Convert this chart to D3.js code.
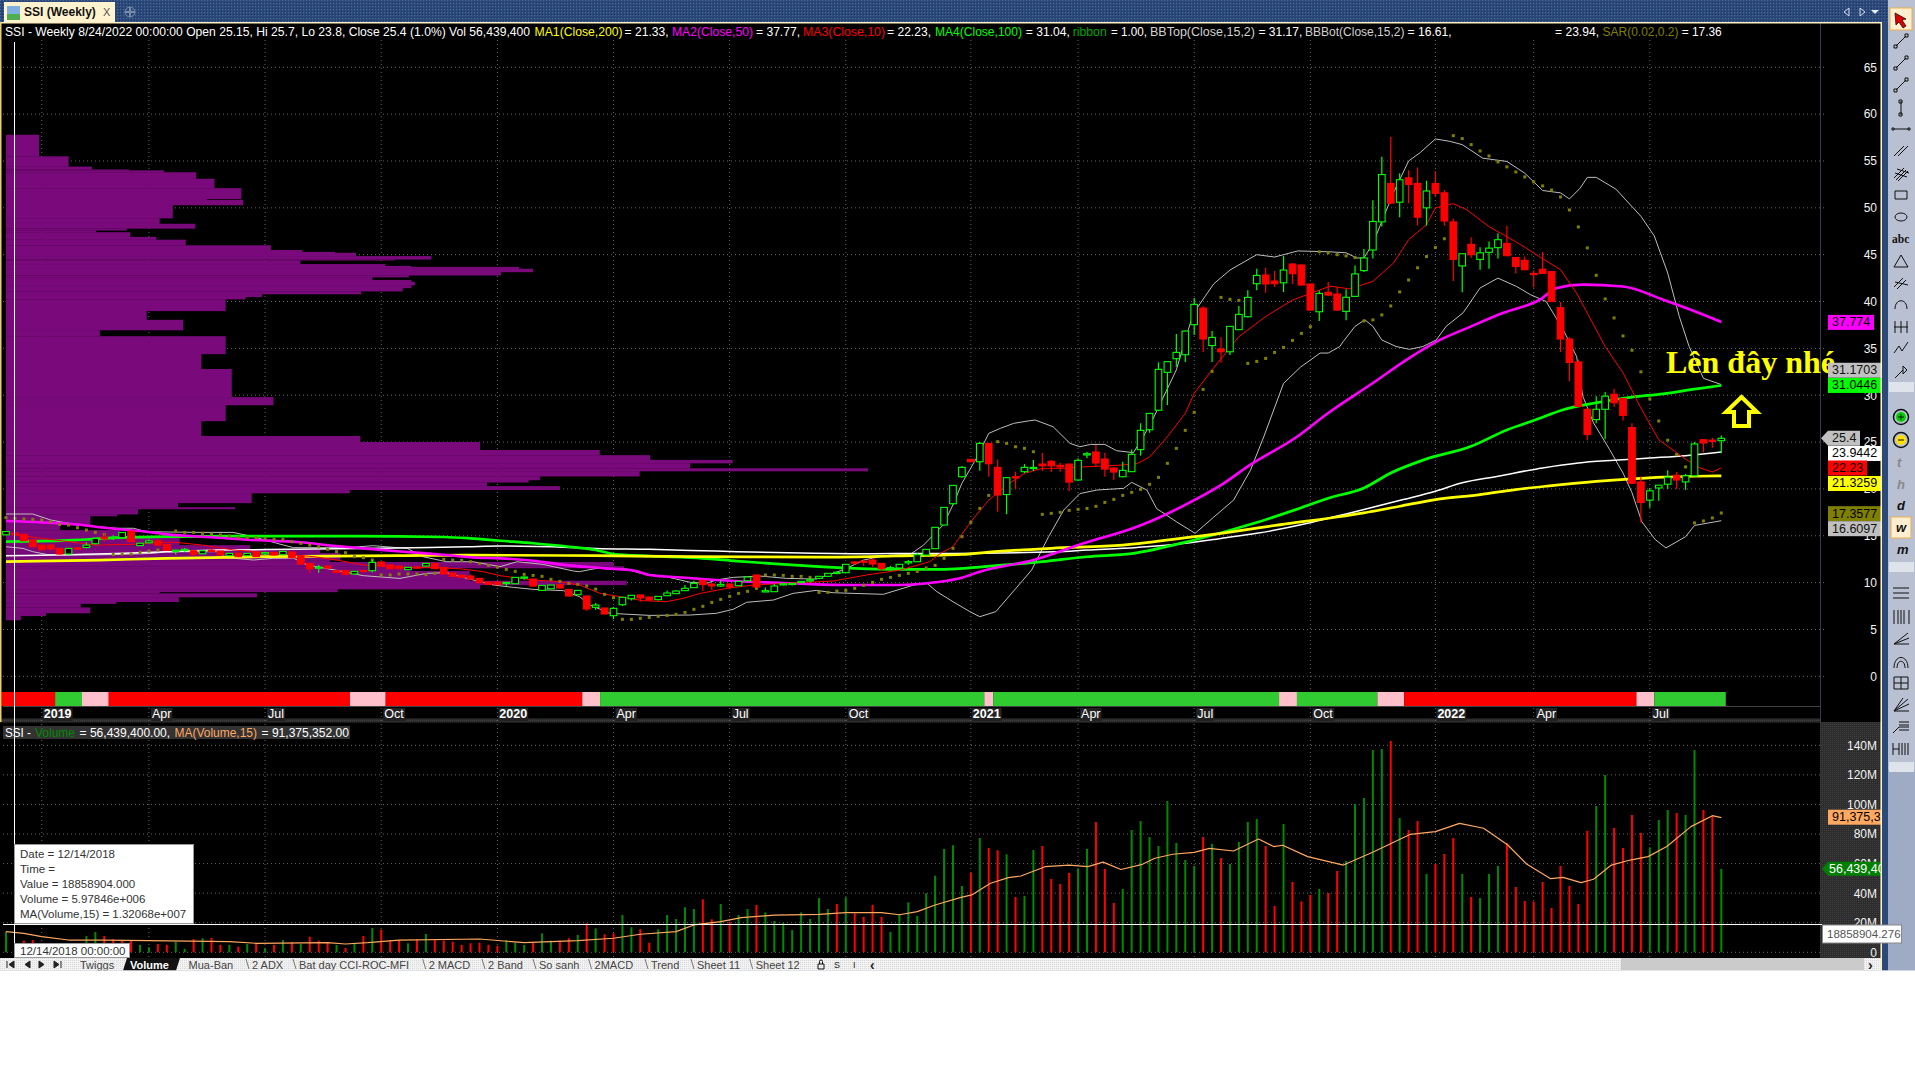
<!DOCTYPE html>
<html><head><meta charset="utf-8">
<style>html,body{margin:0;padding:0;background:#fff}svg{display:block}</style>
<script src="https://cdnjs.cloudflare.com/ajax/libs/d3/7.8.5/d3.min.js"></script>
</head><body><svg id="c" width="1915" height="1068" font-family='"Liberation Sans",Arial,sans-serif'></svg>
<script>
// ---------- candles, one entry per weekly bar ----------
const opens=[15.1,15.3,15.15,14.55,14,14,13.65,13.05,13.7,13.75,14.15,14.85,14.8,14.8,15.5,13.95,14.25,14.45,14.08,13.37,13.5,13.4,13.08,13.45,13.37,12.87,13.15,12.87,13.23,13.05,13.23,12.98,13.27,12.84,12.05,11.6,11.77,11.27,11.27,10.92,11.3,11.27,12.2,11.88,11.77,11.38,11.66,11.77,12.05,11.63,11.02,10.8,10.7,10.45,10.06,10.06,9.95,9.88,10.5,10.38,9.17,9.35,9.78,9.28,8.71,8.57,7.36,7.29,6.47,7.64,8.28,8.68,8.46,8.18,8.6,8.82,9.14,9.46,10.24,9.85,9.64,9.85,9.67,10.2,10.81,9,9.03,9.78,9.82,10,10.17,10.45,10.67,11,11.06,12.2,12.3,12.4,12.05,11.56,11.56,12.1,12.23,12.94,13.62,16.15,18.42,21.3,23.15,22.9,24.86,22.3,19.4,21.3,21.84,22.2,22.65,22.94,22.52,22.65,20.95,23.62,23.94,23.19,22.23,21.3,21.84,24.19,26.32,28.4,32.44,33.9,34.32,37.53,39.3,35.3,34.93,34.64,37,38.38,41.9,42.83,42.19,42,44,43.9,41.87,38.91,40.98,40.8,38.95,40.55,43.3,45.5,48.5,52.6,50.6,53.2,52.6,50,52.6,51.6,48.5,43.8,46.1,44.5,45.25,45.75,46.2,44.7,44.4,43,43.45,43.2,39.35,36,33.55,28.5,27.4,28.5,30.1,29.65,26.55,20.75,18.8,20.1,20.5,21.45,20.75,21.4,25.25,25.2,25.15];
const highs=[15.5,15.35,15.2,14.6,14.05,14.05,13.7,13.7,13.75,14.3,14.75,15.25,15.05,15.35,15.55,14.25,14.6,14.6,14.1,13.5,13.7,13.45,13.4,13.7,13.4,13.15,13.2,13.15,13.25,13.3,13.28,13.35,13.3,12.9,12.1,11.88,11.8,11.3,11.3,11.2,11.35,12.4,12.25,11.9,11.85,11.65,11.75,12.1,12.1,11.7,11.05,10.85,10.88,10.5,10.1,10.1,10.03,10.58,10.65,10.42,9.72,9.76,9.8,9.3,9.18,8.6,7.82,7.3,7.4,8.45,8.66,8.7,8.48,8.55,9.17,9.2,9.74,10.2,10.28,9.9,10.24,9.88,10.15,10.62,10.85,9.49,9.85,9.9,9.95,10.15,10.52,10.7,11,11.15,11.97,12.3,12.4,12.6,12.1,11.8,11.97,12.4,13.2,13.6,15.92,18.05,20.4,22.45,23.2,25,24.9,23.15,21.25,21.84,22.65,23.08,23.83,23.08,22.8,22.7,23.26,23.97,24.68,23.87,22.3,22.9,24.2,27,28.1,33.5,33.6,36.53,36.9,40.37,39.52,36.85,36.2,37.4,39.52,41.2,43.5,43.6,43.25,44.85,44.1,43.95,41.9,41.15,42.08,41.5,41.3,43.85,45.6,50.8,55.45,57.55,53.7,54,54.3,52.9,53.9,51.9,48.85,45.1,46.85,45.8,46.4,47.3,48.1,44.75,44.8,43.35,45.3,43.25,39.95,36.2,33.8,28.55,29.9,30.35,30.7,29.7,27,21.35,20.1,20.4,22,21.8,21.6,25,25.3,25.45,25.7];
const lows=[15.05,15.05,14.45,13.8,13.45,13.4,13,13,13.6,13.65,14.1,14.37,14.55,14.75,14.35,13.9,14.2,13.95,13.4,13,13.3,12.8,13.05,13.3,12.9,12.85,12.75,12.85,12.75,12.95,12.9,12.95,12.6,11.95,10.99,11.05,11.5,11.05,10.85,10.9,11.2,11.1,11.7,11.45,11.45,11.35,11.55,11.75,11.45,10.9,10.65,10.55,10.3,9.95,9.8,9.75,9.6,9.85,10.3,9.6,9.1,9.3,9.4,8.55,8.68,7,7.1,6.63,6.1,7.5,8.1,7.97,8.12,8.1,8.58,8.8,9.12,9.44,9.1,9.2,9.53,9.3,9.65,10.18,9.5,8.98,9,9.7,9.7,9.95,10,10.4,10.65,10.9,11,11.9,11.8,11.7,11.27,11.45,11.5,11.9,12.2,12.9,13.6,16.1,18.3,21.2,22.85,21.95,21.3,17.57,17.3,20.02,21.7,21.9,21.9,21.8,21.84,19.77,20.9,23.26,22.37,21.3,20.95,21.25,21.8,23.55,26,28.3,28.95,33.04,33.54,36.42,34.61,33.54,33.47,34.29,36.95,38.3,41.2,40.94,41.54,41,41.87,41.7,39,37.92,40.6,39,38,40.5,43.15,44.6,48,50.4,49,50.5,48.1,48.1,51.2,48.1,42.2,41,44.65,43.4,43.5,44.6,44.8,43,43.35,41.5,42.95,39.95,34.6,31.5,28.75,25.2,27,25.3,28.75,27.3,20.55,16.4,18,18.75,20,20,19.9,21.35,23.9,24.4,23.8];
const closes=[15.45,15.1,14.47,13.83,13.5,13.6,13.05,13.65,13.65,14,14.72,14.68,14.85,15.35,14.37,14.2,14.45,14,13.45,13.46,13.55,13,13.4,13.35,12.95,13.12,12.77,13.12,12.77,13.2,12.95,13.33,12.66,11.98,11.48,11.66,11.55,11.09,10.88,11.2,11.25,12.16,11.77,11.48,11.48,11.63,11.6,12.05,11.48,10.92,10.67,10.56,10.38,9.99,9.81,9.78,10.02,10.56,10.6,9.63,9.7,9.74,9.42,8.57,9.17,7.18,7.6,6.65,7.25,8.43,8.64,8.36,8.14,8.53,8.89,9.1,9.39,9.92,9.78,9.64,9.81,9.53,10.13,10.6,9.53,9.14,9.64,9.88,9.92,10.13,10.31,10.67,10.99,11.1,11.95,12.1,12.25,11.98,11.48,11.6,11.95,12.24,12.98,13.55,15.9,18.03,20.38,22.3,22.9,24.86,22.69,19.35,21.2,21.2,22.3,22.3,22.47,22.47,22.35,20.73,23.05,23.76,22.76,22.12,21.8,21.98,23.69,26.25,28.06,32.76,33.58,34.57,36.85,39.7,36,36.17,34.64,37.35,38.63,40.44,42.79,41.87,41.9,43.36,42.97,41.76,39.09,40.87,40.69,39.09,40.45,42.95,44.65,48.55,53.55,50.5,53,52.5,49,51.8,51.55,48.6,44.5,45.1,45,45.2,45.7,46.6,44.9,43.75,43.4,42.95,43,40,36,33.5,28.8,25.8,28.5,29.9,29.2,27.85,20.6,18.55,19.8,20.4,21.25,20.95,21.4,24.8,24.9,25.15,25.4];
// ---------- SAR, one value per bar ----------
const sarValues=[16.93,16.86,16.79,16.75,16.68,16.5,16.22,16.15,15.86,15.61,15.36,15.15,13,13.05,13.05,13.23,13.37,13.48,13.55,15.5,15.36,15.36,15.26,15.19,15.08,14.97,14.83,14.8,14.8,14.72,14.62,14.62,14.37,14.19,14.01,13.83,13.55,13.3,13.19,12.77,12.66,12.41,10.81,10.81,10.92,10.92,10.92,10.85,10.99,12.48,12.41,12.37,12.23,12.05,11.84,11.66,11.41,11.2,10.88,10.77,10.67,10.35,10.13,9.92,9.81,9.64,9.31,8.75,8.39,6.08,6.08,6.19,6.29,6.4,6.5,6.61,6.82,7.15,7.47,7.89,8.21,8.53,8.85,9.07,9.39,10.81,10.81,10.77,10.67,10.67,10.56,8.96,8.96,9.1,9.17,9.39,9.71,10.03,10.35,10.56,10.77,10.99,11.2,11.56,11.84,12.59,13.66,14.9,16.43,17.92,19.31,25.04,24.86,24.5,24.33,23.97,17.28,17.39,17.5,17.71,17.82,17.92,18.14,18.56,18.88,19.31,19.63,19.95,20.49,21.23,22.73,24.33,26.25,28.17,30.62,32.55,40.44,40.23,40.12,33.4,33.61,33.93,34.57,35.1,35.85,36.6,37.31,45.3,45.2,45,44.87,44.7,37.93,38.04,38.57,39.53,41.03,42.3,43.6,44.8,45.76,46.7,57.7,57.39,56.75,56.07,55.54,54.9,54.37,53.83,53.3,52.77,52.34,51.9,51.16,49.77,47.96,45.72,42.8,40.28,38.25,36.33,34.8,32.5,29.6,27.25,25.2,23.66,22.35,16.37,16.58,16.9,17.43];
// ---------- volume (millions) and direction, one per bar, ten bars to a group ----------
const volumes=[14,6,7.9,8.3,5,4,4,3,3,11,13.7,11,8.8,8.3,7.9,5,3.4,5.6,5,7.2,2.3,9,9.5,9.7,5,5,3.8,5.6,6.1,2.7,5,8.3,7,5.6,10.6,7.9,6.5,5,2.9,6.1,11,16.5,15.3,8.3,8.3,6.1,8.8,12.4,8.3,7.9,7.2,5,6.1,6.5,5,4.3,8.3,6.5,5,6.5,12.8,7.9,7.9,9.5,11.7,19.6,16.2,12.2,12.8,25.2,16.9,15.6,6.5,15.6,25.2,22.5,30.4,29.3,35.8,22.3,32.7,20.7,25.2,29.3,32,27,21.2,20,15,27,22.5,36.7,29.3,32.7,37.2,26.4,24,32,24,13.8,25.7,33.8,24.6,39.9,51.8,69.9,72.4,44.9,53.9,77.3,70.6,69,66.3,37.4,38.1,69.2,71.9,49.6,46.2,53.7,56.4,69.9,88.1,56.4,33.4,42.8,82.7,88.8,78,71.9,102.3,73.9,62.4,58.4,78,73.3,63.8,59.7,74.6,88.1,90.2,71.9,31.3,86.8,47.6,34.5,38.8,42.8,40.1,55,61.8,100.3,104.4,136.8,137.5,142.9,90.8,82.7,88.8,53,59.7,66.5,77.3,53,37.4,36.7,53,58.4,73.9,44.2,34.7,34.3,47.6,30,58.4,44.9,32.7,82.1,99,119.9,84.1,70.6,92.9,80.7,71,89.5,96.3,94.2,92.9,136.8,96.3,92.2,56.4];
const volumeDirectionGroups=["ggrrrrrgrg","grrrrggrrg","grgrrgrgrg","rgrgrrrgrg","rgrrrgrgrr","rrrrrrgggr","ggrrgrgrrg","grrgggggrr","grggrggggg","gggrgrrrrg","ggggggggrg","rrgrggrrrr","ggrrrggggg","ggggrgrggg","grrgrrrgrr","gggggrgrrg","rrrgrgggrr","rrrrrrrrgg","rrrrgggrgg","rrg"];
const volumeDirections=volumeDirectionGroups.join("");
// ---------- moving averages and bands, read at the bars listed ----------
const ma200Bars=[0,10.5,18,29,44,51.6,66,77,92,99.5,107,110,117,125,133,136,143.5,149,152,156,160,165,169,172.5,178,182,185.5,189,192];
const ma200Values=[12.23,12.41,12.59,12.77,12.87,12.94,12.87,12.77,12.73,12.84,13,13.25,13.66,14,14.9,15.26,16.3,17,17.44,18.15,18.86,19.4,19.93,20.3,20.8,21.07,21.25,21.35,21.4];
const ma100Bars=[0,6.8,9,12.4,18,25,39,49,52,55.3,59,63,66,68,72,78,81.8,87,91,95,100,105,109.5,116,121,126,133,139.6,145,148,152,155,158.7,164,168,171.3,174.3,178,182,185.5,189,192];
const ma100Values=[14.37,14.5,14.6,14.8,14.9,14.97,14.97,14.87,14.72,14.47,14.2,13.83,13.48,13.05,12.84,12.59,12.3,11.95,11.7,11.52,11.41,11.41,11.7,12.23,12.76,13.1,14.55,16.3,18,19,20.1,21.7,23.1,24.55,26.3,27.4,28.45,29.2,29.8,30.15,30.65,31.04];
const ma50Bars=[0,4,8,11,15,18,22,27,33,36.6,40,44.5,48.6,52.7,55.3,59,62,67,70.5,72,76,79,85,89,94,100,104,107,109,115,120.6,126.6,128,133,136.3,139,144.5,148,153,156.8,160.5,164,167.6,171.7,173.6,176.5,181,185.5,188.5,192];
const ma50Values=[16.57,16.43,16.2,15.85,15.5,15.15,14.9,14.58,14.3,13.94,13.65,13.3,13,12.66,12.59,12.34,11.95,11.52,11.24,10.81,10.52,10.31,10.03,9.88,9.74,9.74,10.03,10.52,11.17,12.41,14.19,15.97,16.5,18.8,20.6,22.4,25.57,28.1,31.3,33.8,35.9,37.35,38.8,40.2,41.45,41.8,41.6,40.2,39.15,37.82];
const ma10Bars=[1,4,7,10,14,17,19,22,25.5,28,31,34.4,37,40,44,48,51,53.4,55.3,59,62,64.2,66.5,68.7,71.3,73.9,75.8,77.7,80.7,83.6,88.9,92.6,96.3,100.1,103.4,104.6,106,108,110,112.3,114,116,118.4,121,125,126.6,128,130,132,133,135,138,141,144,148.2,150.4,153,155.3,157,159,160,162,163.5,166,169.5,171.7,174,175.8,177.6,179,181,182.9,185,187.8,189.6,191,192];
const ma10Values=[15.08,14.72,14.37,14,14.08,14.3,14.3,14,13.48,13.3,13.05,12.77,12.41,11.88,11.63,11.63,11.45,11.17,10.74,10.28,10.1,9.74,8.85,8.5,8.07,7.96,8.32,8.85,9.39,9.74,10,10.17,10.81,11.34,12.23,13.12,13.83,16.5,18.8,20.6,21.66,22.2,22.2,22.37,22.55,22.7,23.4,25.57,28.06,30.2,32.7,36.25,38.4,40.16,41.64,41.35,42.15,44.1,46.6,48.2,50,50.45,49.8,48,46.1,44.75,43.4,40.9,37.7,35.2,32.4,28.8,25.25,23.3,22.25,21.8,22.25];
const whiteBars=[0,12.4,18,23.6,32.2,40,47.4,51.6,55.3,63,66,72,78,81.8,89,97,101.6,106,117.5,121,126.6,132,136,140,145.7,149,152,156.4,160,163,167,172,176,180,184,188,192];
const whiteValues=[12.87,13.1,13.3,13.48,13.55,13.65,13.76,13.83,13.9,13.76,13.65,13.55,13.4,13.3,13.16,13.08,13.12,13.12,13.3,13.48,13.76,14.19,14.72,15.26,16.33,17.1,17.8,18.86,19.75,20.65,21.35,22.24,22.77,23.06,23.3,23.55,23.94];
const bbTopBars=[0,3,5,8,12.4,14.3,15.7,21.7,25.4,27.7,30.3,32.2,38.1,41.1,44.9,46.7,49.3,52.3,55.3,57.2,60.1,61.3,63.5,64.2,66.1,69.5,71,73.9,76.6,78.4,79.5,81.4,84.4,87.4,90.7,92.6,94.1,96,97.5,98.9,101.2,102.7,103.8,104.9,106,107,108.7,110,111.3,112.8,114.6,115.2,117.2,119.1,120.2,121.4,123,124.3,126.2,127.3,128.4,131,132.1,132.9,135.2,137,140,142,144.6,148.3,150,151.2,152,153,155.3,157,158.3,160,161.6,163,165.3,168,170,172,174,175,176.2,177,178,180.2,183,184.5,186,187.3,188.4,190,192];
const bbTopValues=[17.32,17.32,16.68,16.15,15.8,15.8,15.43,15.36,15.36,14.9,14.2,13.73,13.73,13.94,13.65,12.76,12.23,12.23,11.7,12.23,11.95,11.7,11.24,11.17,11.52,11.45,10.99,10.63,10.03,9.92,10.28,10.56,10.7,10.45,10.38,10.99,11.52,12.41,12.7,12.94,13,14,15.08,16.15,18.3,20.6,23.4,25.93,26.46,27,27.28,27.35,26.64,24.86,24.5,24.75,24.75,24.08,23.87,25.57,27.5,32.7,36.25,38.73,41.9,43.36,45,44.75,45.4,45.3,45.2,44.65,44.65,46.2,51.6,55,55.9,57.35,57.1,56.75,55.3,54.95,53.7,51.85,51.6,50.95,52.1,53.25,53.25,52,49.1,47,43.05,38.4,35.2,31.8,31.14];
const bbBotBars=[0,1.9,3,4.6,8.7,12.4,16.5,18,23.6,24.7,27.7,29.9,32.2,33.7,37.8,40,44.1,47.1,49.3,51.6,54.6,56.8,59,62.4,64.2,65.4,67.6,72.1,76.6,79.5,81.4,82.9,85.9,88.1,90.7,92.6,98.2,101.6,103.1,104.2,106,107.9,109,110.8,114.8,116.7,118.4,120.2,122.1,125.1,126,127.7,128.8,131,133.1,135.2,137.4,139.3,140.8,143,144.9,147.1,148,149.3,149.7,151,152.1,153,154,155.6,157.1,158.6,160.1,161.2,163.1,165,167,169.1,170.6,172.4,174.3,175.8,176.5,177.7,179.5,181,182,183.1,184.6,185.8,188,189,192];
const bbBotValues=[13.83,13.65,13.3,13,12.94,13,13.12,13.3,13.3,12.66,12.41,12.59,12.6,11.88,11.17,10.74,10.45,10.99,11.06,10.45,9.74,9.49,9.28,9.14,8.5,7.6,6.72,6.5,6.54,6.72,7.15,7.9,8.14,8.85,9.17,8.92,8.75,9.74,9.92,9.03,7.96,6.9,6.36,6.9,11.34,14.9,17.75,19.5,19.88,20.06,20.7,19.88,17.9,16.5,15.26,17,18.8,22,25.6,31.26,33,34.5,34.5,35.2,35.75,37.35,38.05,37.35,35.9,35.2,34.9,35.2,35.9,37.35,38.8,41.45,42.5,41.6,40.75,40,37,34.15,29.9,27.05,24.2,21.7,19.6,16.5,14.6,13.7,14.9,16.1,16.61];
const volMaBars=[0,2,4,7,11,16,25,28,36,38,40.5,44,53,58,64,68,71,75,77,80,82.3,86,91,94,98,100,102,104,106.8,108.1,110.2,112.2,113.6,116.3,119,121.1,122.8,124.8,127.2,128.6,130.6,133,134.7,137.4,140.2,141.9,142.9,145.7,149.7,153.1,157.2,160,162.7,165.4,168.1,170.2,172.9,174.3,176.3,177.7,179.7,181.8,183.8,185.9,188.6,191,192];
const volMaValues=[14,12.8,10.6,8.3,8.3,7.9,7.2,6.1,6.5,5.6,6.5,8.3,9,6.5,7.9,9.5,12.2,14,18.5,20.7,23.4,25.2,25.7,26.8,26.8,25.4,27.5,32,37,38.8,46.7,50.5,51.6,57.9,59,57.9,61,56,59.5,63.6,66.3,67.6,70.3,68.5,76.6,71.5,72.4,64.7,59,68,79.8,81.6,87.2,83.9,72.6,59.7,49.8,50.7,47.1,49.4,59,62.4,64.7,71.5,85,92.4,91.1];
// ---------- volume-at-price profile: top price of each row, share of the peak ----------
const profileTops=[57.8,55.5,54.4,54.1,54,53.8,53.1,52.1,50.95,50.85,50.3,48.9,48.3,47.8,47.6,47.4,46.9,46.6,46,45.5,45.3,45.2,44.85,44.5,44.4,44,43.8,43.7,43.5,43.15,42.8,42.6,42.3,42.1,41.75,41.45,41.1,40.8,40.5,40.25,39,38.05,36.95,36.3,34.4,32.8,29.8,28.95,27.25,25.65,25,24.15,23.6,23.1,22.75,22.2,21.9,21.35,20.95,20.7,20.3,19.9,19.55,18.5,18.3,18.05,17.85,17.3,17.1,16.15,15.6,15,14,13.5,13.15,12.4,12.2,11.75,11.55,11.25,10.2,9.75,9.3,9,8.85,8.45,7.95,7.75,7.35,6.75,6.45,6];
const profileShares=[4.5,7.9,10.6,14.9,18.9,22.6,24.7,27.8,23.8,28,19.9,18.4,22.5,14.6,11.1,15,18,21.4,31.2,34.8,38.6,41,49.7,45.5,34.6,44.4,47.4,59.8,61.4,57.7,47.1,42.9,47.4,47.8,47.4,46.4,41.6,30.2,28.3,26,16.9,21.1,11.5,26,23.2,26.7,31.5,26,23.2,41.5,55.3,69.1,74.9,84.4,79.5,100,73.7,62.2,60.9,56.1,64.5,40.3,29,20.5,20.5,27.1,15.9,13.5,10.4,6.9,13.8,20.7,28.8,36.9,39.2,38,70.7,71.9,47.2,54.1,72.2,55.3,38.9,18.4,29.6,20.6,13.4,9.3,10.4,5.3,2.4];
// ---------- ribbon ----------
const ribbonEnds=[6,9,12,39,43,65,67,110,111,143,145,154,157,183,185,193];
const ribbonStates=["down","up","flat","down","flat","down","flat","up","flat","up","flat","up","flat","down","flat","up"];
// ---------- axes ----------
const dateTickBars=[4,16,29,42,55,68,81,94,108,120,133,146,160,171,184];
const dateTickLabels=["2019","Apr","Jul","Oct","2020","Apr","Jul","Oct","2021","Apr","Jul","Oct","2022","Apr","Jul"];
const priceTicks=[0,5,10,15,20,25,30,35,40,45,50,55,60,65];
const volumeTicks=[0,20,40,60,80,100,120,140];
const tabNames=["Twiggs","Volume","Mua-Ban","2 ADX","Bat day CCI-ROC-MFI","2 MACD","2 Band","So sanh","2MACD","Trend","Sheet 11","Sheet 12"];
const FONT='"Liberation Sans",Arial,sans-serif';
const SERIF='"Liberation Serif","Times New Roman",serif';
const svg=d3.select("#c");
const x=d3.scaleLinear().domain([0,192]).range([6,1721.3]);
const yP=d3.scaleLinear().domain([0,65]).range([676.3,67.3]);
const yV=d3.scaleLinear().domain([0,140]).range([952.3,745.3]);
const profX=d3.scaleLinear().domain([0,100]).range([0,868]);
const bars=d3.range(opens.length);
function T(g,xx,yy,s,fill,size,extra){const t=g.append("text").attr("x",xx).attr("y",yy).attr("fill",fill).attr("font-size",size||12).attr("dominant-baseline","central").text(s);if(extra)for(const k in extra)t.attr(k,extra[k]);return t;}
function R(g,xx,yy,w,h,fill,st){const r=g.append("rect").attr("x",xx).attr("y",yy).attr("width",w).attr("height",h).attr("fill",fill);if(st)r.attr("stroke",st);return r;}

R(svg,0,0,1915,970.5,"#2c4a78");
const defs=svg.append("defs");
const pat=defs.append("pattern").attr("id","dith").attr("width",3).attr("height",3).attr("patternUnits","userSpaceOnUse");
R(pat,0,0,3,3,"#2b4a7b");R(pat,0,0,1,1,"#4b6a96");R(pat,2,2,1,1,"#1d3760");
R(svg,0,0,1915,22,"url(#dith)");
const tabDith=defs.append("pattern").attr("id","tabd").attr("width",2).attr("height",2).attr("patternUnits","userSpaceOnUse");
R(tabDith,0,0,2,2,"#f2f2f2");R(tabDith,0,0,1,1,"#d9d9d9");
const axDith=defs.append("pattern").attr("id","axd").attr("width",2).attr("height",2).attr("patternUnits","userSpaceOnUse");
R(axDith,0,0,2,2,"#2c2c2c");R(axDith,0,0,1,1,"#404040");

R(svg,0,22,1882,948,"#000");
R(svg,1820,722,61,236,"url(#axd)");
R(svg,0,718.5,1820,4,"url(#axd)");

const grid=svg.append("g").attr("stroke","#666").attr("stroke-dasharray","1 3").attr("stroke-width",1);
grid.selectAll("line.p").data(priceTicks).join("line").attr("class","p").attr("x1",3).attr("x2",1826).attr("y1",d=>yP(d)).attr("y2",d=>yP(d));
grid.selectAll("line.v").data(volumeTicks).join("line").attr("class","v").attr("x1",3).attr("x2",1820).attr("y1",d=>yV(d)).attr("y2",d=>yV(d));
grid.selectAll("line.t").data(dateTickBars).join("line").attr("class","t").attr("x1",d=>x(d)).attr("x2",d=>x(d)).attr("y1",40).attr("y2",958);
svg.append("line").attr("x1",1820.5).attr("x2",1820.5).attr("y1",22).attr("y2",722).attr("stroke","#3a3a48");

const prof=svg.append("g").attr("fill","#7a0a7c");
prof.selectAll("rect").data(profileShares).join("rect")
 .attr("x",6).attr("width",d=>Math.max(0,profX(d)-6))
 .attr("y",(d,i)=>yP(profileTops[i])).attr("height",(d,i)=>yP(profileTops[i+1])-yP(profileTops[i])+0.2);

const ribbonColour={down:"#ff0000",up:"#2fcb30",flat:"#ffc0cb"};
svg.append("g").selectAll("rect").data(ribbonEnds).join("rect")
 .attr("x",(d,i)=>x((i?ribbonEnds[i-1]:0)-0.5)).attr("width",(d,i)=>x(d-0.5)-x((i?ribbonEnds[i-1]:0)-0.5))
 .attr("y",692).attr("height",14).attr("fill",(d,i)=>ribbonColour[ribbonStates[i]]);
svg.append("line").attr("x1",3).attr("x2",1820).attr("y1",706.5).attr("y2",706.5).attr("stroke","#444");

const ln=(xs,ys,scale,curve)=>d3.line().curve(curve||d3.curveLinear).x(i=>x(xs[i])).y(i=>scale(ys[i]))(d3.range(xs.length));
function L(xs,ys,col,w,scale,curve){svg.append("path").attr("d",ln(xs,ys,scale||yP,curve)).attr("fill","none").attr("stroke",col).attr("stroke-width",w).attr("stroke-linejoin","round");}
L(bbTopBars,bbTopValues,"#bdbdbd",1);
L(bbBotBars,bbBotValues,"#bdbdbd",1);
L(whiteBars,whiteValues,"#ffffff",1.5,yP,d3.curveMonotoneX);
L(ma100Bars,ma100Values,"#00ff00",2.7,yP,d3.curveMonotoneX);
L(ma200Bars,ma200Values,"#ffff00",2.7,yP,d3.curveMonotoneX);
L(ma50Bars,ma50Values,"#ff00ff",2.6,yP,d3.curveMonotoneX);
L(ma10Bars,ma10Values,"#ff0000",1,yP);

svg.append("g").attr("fill","#808000").selectAll("rect").data(sarValues).join("rect")
 .attr("x",(d,i)=>x(i)-1.5).attr("y",d=>yP(d)-1.5).attr("width",3).attr("height",3);

const isUp=i=>closes[i]>=opens[i];
const cg=svg.append("g");
cg.selectAll("line").data(bars).join("line")
 .attr("x1",i=>x(i)).attr("x2",i=>x(i)).attr("y1",i=>yP(highs[i])).attr("y2",i=>yP(lows[i]))
 .attr("stroke",i=>isUp(i)?"#00ff00":"#ff0000").attr("stroke-width",1.2);
cg.selectAll("rect").data(bars).join("rect")
 .attr("x",i=>x(i)-3.3).attr("width",6.6)
 .attr("y",i=>yP(Math.max(opens[i],closes[i])))
 .attr("height",i=>Math.max(1.2,Math.abs(yP(opens[i])-yP(closes[i]))))
 .attr("fill",i=>isUp(i)?"#000":"#ff0000").attr("stroke",i=>isUp(i)?"#00ff00":"#ff0000").attr("stroke-width",1.1);

svg.append("g").selectAll("rect").data(volumes).join("rect")
 .attr("x",(d,i)=>x(i)-1).attr("width",2).attr("y",d=>yV(d)).attr("height",d=>yV(0)-yV(d))
 .attr("fill",(d,i)=>volumeDirections[i]==="g"?"#008a00":"#ff0000");
L(volMaBars,volMaValues,"#ffa860",1.2,yV);

const ax1=svg.append("g").attr("transform","translate(1877,0)").call(d3.axisLeft(yP).tickValues(priceTicks).tickSize(0).tickPadding(0));
ax1.attr("font-family",FONT);ax1.select(".domain").remove();ax1.selectAll("text").attr("fill","#f2f2f2").attr("font-size",12);
const ax2=svg.append("g").attr("transform","translate(1877,0)").call(d3.axisLeft(yV).tickValues(volumeTicks).tickSize(0).tickPadding(0).tickFormat(d=>d?d+"M":"0"));
ax2.attr("font-family",FONT);ax2.select(".domain").remove();ax2.selectAll("text").attr("fill","#f2f2f2").attr("font-size",12);
dateTickBars.forEach((b,i)=>{
  const year=/^\d/.test(dateTickLabels[i]);
  const t=T(svg,x(b)+(year?2:3),714,dateTickLabels[i],"#fff",12.5,{"font-weight":year?"bold":"normal"});
  const bb=t.node().getBBox();
  svg.insert("rect",()=>t.node()).attr("x",bb.x-1).attr("y",708).attr("width",bb.width+2).attr("height",13).attr("fill","#222");
});
// header runs: x, text, colour, measured run width
const hd=svg.append("g");
[[5,"SSI - Weekly 8/24/2022 00:00:00 Open 25.15, Hi 25.7, Lo 23.8, Close 25.4 (1.0%) Vol 56,439,400","#fff",525],
 [534.6,"MA1(Close,200)","#ffff00",88],[624.6,"= 21.33,","#fff",44],[672,"MA2(Close,50)","#ff00ff",81],[756,"= 37.77,","#fff",44],
 [803,"MA3(Close,10)","#ff0000",82],[887,"= 22.23,","#fff",44],[935,"MA4(Close,100)","#00ff00",87],[1025.8,"= 31.04,","#fff",44],
 [1072.7,"ribbon","#00a800",34],[1111,"= 1.00,","#fff",36],[1150,"BBTop(Close,15,2)","#d0d0d0",105],[1258.4,"= 31.17,","#fff",44],
 [1305,"BBBot(Close,15,2)","#d0d0d0",99.5],[1407.6,"= 16.61,","#fff",44],[1555,"= 23.94,","#fff",44],[1602.5,"SAR(0.02,0.2)","#808000",76],[1681.7,"= 17.36","#fff",40]]
 .forEach(r=>T(hd,r[0],32,r[1],r[2],12,{textLength:r[3],lengthAdjust:"spacingAndGlyphs"}));
R(svg,3,726,347,13,"#333");
[[5,"SSI -","#fff",26],[35,"Volume","#008a00",40],[79.6,"= 56,439,400.00,","#fff",90.5],[174.5,"MA(Volume,15)","#ffa860",82.5],[261.5,"= 91,375,352.00","#fff",87.5]]
 .forEach(r=>T(svg,r[0],733,r[1],r[2],12,{textLength:r[3],lengthAdjust:"spacingAndGlyphs"}));

T(svg,1666,362,"Lên đây nhé","#ffff00",32,{"font-weight":"bold","font-family":SERIF});
svg.append("path").attr("d","M1741.5 397 L1757 412 L1749 412 L1749 426 L1734 426 L1734 412 L1726 412 Z").attr("fill","#000").attr("stroke","#ffff00").attr("stroke-width",4).attr("stroke-linejoin","miter");

function tag(g,v,txt,bg,fg,w,nudge,scale){const cy=scale(v)+nudge;R(g,1828,cy-7.5,w,15,bg);T(g,1832,cy,txt,fg,12.5);}
const tg=svg.append("g");
tag(tg,37.774,"37.774","#ff00ff","#000",46,0,yP);
tag(tg,31.1703,"31.1703","#c0c0c0","#111",53,-14,yP);
tag(tg,31.0446,"31.0446","#00ff00","#000",53,0,yP);
tag(tg,23.9442,"23.9442","#ffffff","#000",53,1.5,yP);
tag(tg,22.23,"22.23","#ff0000","#000",39,0,yP);
tag(tg,21.3259,"21.3259","#ffff00","#000",53,7,yP);
tag(tg,17.3577,"17.3577","#808000","#000",53,0,yP);
tag(tg,16.6097,"16.6097","#c0c0c0","#111",53,8,yP);
const cy0=yP(closes[192]);
tg.append("path").attr("d",`M1821 ${cy0} L1828 ${cy0-7.5} L1860 ${cy0-7.5} L1860 ${cy0+7.5} L1828 ${cy0+7.5} Z`).attr("fill","#c0c0c0");
T(tg,1832,cy0,"25.4","#111",12.5);
tag(tg,91.375,"91,375,35","#ffa860","#000",53,0,yV);
const cy1=yV(56.439);
tg.append("path").attr("d",`M1822 ${cy1} L1828 ${cy1-7} L1881 ${cy1-7} L1881 ${cy1+7} L1828 ${cy1+7} Z`).attr("fill","#008000");
T(tg,1829,cy1,"56,439,40","#fff",12.5);

svg.append("line").attr("x1",14.5).attr("x2",14.5).attr("y1",42).attr("y2",958).attr("stroke","#fff").attr("stroke-width",1);
svg.append("line").attr("x1",3).attr("x2",1822).attr("y1",924.5).attr("y2",924.5).attr("stroke","#fff").attr("stroke-width",1.2);

R(svg,14.5,844.5,179,79,"#fff","#999");
["Date = 12/14/2018","Time =","Value = 18858904.000","Volume = 5.97846e+006","MA(Volume,15) = 1.32068e+007"].forEach((s,i)=>T(svg,20,854+i*14.9,s,"#333",11.5));
R(svg,14.5,943.5,115,14,"#fff","#999");
T(svg,20,950.5,"12/14/2018 00:00:00","#333",11.5);

R(svg,0,958,1882,12.5,"url(#tabd)");
R(svg,1621,958,243,12.5,"#cbcbcb");
T(svg,1868,964.5,"›","#222",14,{"font-weight":"bold"});
svg.append("path").attr("d","M7 961v7M14 961l-5 3.5 5 3.5zM30 961l-5 3.5 5 3.5zM39 961l5 3.5-5 3.5zM54 961l5 3.5-5 3.5zM61 961v7").attr("fill","#222").attr("stroke","#222");
const tabX=[80,130,188.6,252,299,428.7,488,539,594.6,651,697,755.7];
svg.append("path").attr("d","M123 970.5L127 958H180L176 970.5Z").attr("fill","#111");
tabNames.forEach((s,i)=>T(svg,tabX[i],965,s,i===1?"#fff":"#444",11,{"font-weight":i===1?"bold":"normal"}));
const tabSep=svg.append("g").attr("stroke","#777").attr("fill","none");
tabX.forEach((xx,i)=>{if(i>2)tabSep.append("path").attr("d",`M${xx-6} 959l3 10`);});
svg.append("path").attr("d","M818 964h6v5h-6zM819.5 964v-2.5a1.5 1.5 0 0 1 3 0v2.5").attr("fill","none").attr("stroke","#111");
T(svg,834,965,"S","#222",9);T(svg,853,965,"I","#222",9);T(svg,870,964.5,"‹","#222",14,{"font-weight":"bold"});

R(svg,1882,22,6,948.5,"#2c4a78");
R(svg,0,22,1882,1.5,"#ffeec0");
R(svg,0,22,1.5,700,"#e8d070");
R(svg,1880.5,22,1.5,948.5,"#fff2c8");

R(svg,4,2,111,20,"#fff2cf");
R(svg,7,6,13,14,"#7fb0e0");R(svg,7,14,13,6,"#4fae4f");
T(svg,24,12,"SSI (Weekly)","#111",12,{"font-weight":"bold"});
T(svg,103,12,"X","#555",11);
svg.append("path").attr("d","M130 7v10M125 12h10").attr("stroke","#7a8aa8").attr("stroke-width",2);
svg.append("circle").attr("cx",130).attr("cy",12).attr("r",5).attr("fill","none").attr("stroke","#7a8aa8");
svg.append("path").attr("d","M1849 8l-5 4 5 4zM1860 8l5 4-5 4z").attr("fill","none").attr("stroke","#d5dbe8");
svg.append("path").attr("d","M1871 10h8l-4 4z").attr("fill","#e8ecf4");

R(svg,1888,0,27,970.5,"#b8c0d2");
R(svg,1888,770,27,200.5,"#9fabc4");
R(svg,1890,8,22,22,"#ffeed0","#e8b050");
svg.append("path").attr("d","M1895 13l11 6-4 1 4 6-3 2-4-6-3 3z").attr("fill","#e00000").attr("stroke","#111").attr("stroke-width",.8);
R(svg,1889,382,25,10,"#dfe3ec");R(svg,1889,562,25,10,"#dfe3ec");R(svg,1889,762,25,10,"#dfe3ec");
[[417,"#00d000"],[440,"#ffe000"]].forEach(a=>{
 svg.append("circle").attr("cx",1901).attr("cy",a[0]).attr("r",7.5).attr("fill","none").attr("stroke","#111").attr("stroke-width",1.5);
 svg.append("circle").attr("cx",1901).attr("cy",a[0]).attr("r",5).attr("fill",a[1]);
});
const tb=svg.append("g").attr("stroke","#111").attr("fill","none").attr("stroke-width",1);
const ic=(y,d)=>tb.append("path").attr("transform",`translate(1901,${y})`).attr("d",d);
ic(417,"M-3 0h6M0 -3v6");ic(440,"M-3 0h6");
[41,63,85].forEach(y=>ic(y,"M-5 5L5 -5M-7 4h3v3h-3zM4 -7h3v3h-3z"));
ic(108,"M0 -7V7M-2 -8h3v3h-3zM-2 5h3v3h-3z");
ic(129,"M-7 0H7M-9 -1h2v2h-2zM7 -1h2v2h-2z");
ic(151,"M-7 5L3 -5M-3 5L7 -5");
ic(173,"M-7 5L3 -5M-5 7L5 -3M-3 8L7 -2M-6 0L6 4M-4 -4L8 0");
ic(195,"M-6 -4h12v8h-12z");
ic(217,"M-6 0a6 4 0 1 0 12 0a6 4 0 1 0 -12 0");
T(svg,1892,239,"abc","#111",11.5,{"font-weight":"bold","font-family":SERIF});
ic(261,"M0 -6L7 6H-7Z");
ic(283,"M-7 4L2 -5M-4 6L5 -3M-6 -1L7 2");
ic(304,"M-6 5C-6 -6 6 -6 6 5");
ic(327,"M-6 -6V6M0 -6V6M6 -6V6M-7 0h14");
ic(348,"M-7 5L-2 -2L1 3L7 -6");
ic(372,"M-6 6L2 -2M2 -6L6 -2L2 2Z");
[["t",462,"#888"],["h",484,"#888"],["d",505,"#111"],["m",549,"#111"]].forEach(a=>T(svg,1897,a[1],a[0],a[2],13,{"font-weight":"bold","font-style":"italic"}));
R(svg,1891,517,20,21,"#ffeed0","#e8b050");
T(svg,1896,527,"w","#111",13,{"font-weight":"bold","font-style":"italic"});
ic(593,"M-8 -5H8M-8 0H8M-8 5H8");
ic(617,"M-7 -7V7M-3 -7V7M0 -7V7M3 -7V7M8 -7V7");
ic(638,"M-7 6L7 -5M-7 6L8 0M-7 6H8");
ic(662,"M-7 6C-7 -8 7 -8 7 6M-4 6C-4 -3 4 -3 4 6");
ic(683,"M-7 -6H7V6H-7ZM0 -6V6M-7 0H7");
ic(705,"M-7 6L7 -6M-7 6L8 -1M-7 6L2 -7M-7 6H8");
ic(727,"M-8 6L-2 0H8M-2 -5H8M-2 -2H8M-2 3H8");
ic(749,"M-8 -6V6M-8 0H-2M-2 -6V6M1 -6V6M4 -6V6M7 -6V6");

R(svg,1822.5,925,79,18,"#fff","#888");
T(svg,1827,934,"18858904.276","#555",11.5);

R(svg,0,970.5,1915,97.5,"#fff");
</script></body></html>
